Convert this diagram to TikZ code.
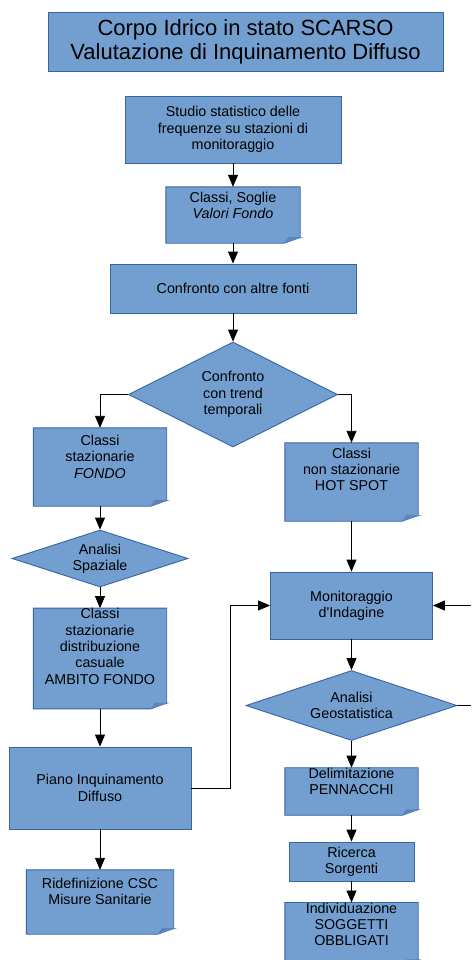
\documentclass[tikz,border=0pt]{standalone}
\usepackage{fontspec}
\setmainfont{Liberation Sans}
\usetikzlibrary{shapes.geometric,arrows.meta,backgrounds}
\definecolor{boxfill}{HTML}{729FCF}
\definecolor{boxline}{HTML}{3465A4}
\definecolor{folddark}{HTML}{5B84BA}
\tikzset{
  txt/.style={align=center, font=\fontsize{14.3}{16.4}\selectfont, inner sep=0pt},
  box/.style={txt, draw=boxline, fill=boxfill, line width=0.9pt},
  docbox/.style={txt},
  dec/.style={txt, diamond, draw=boxline, fill=boxfill, line width=0.9pt},
  conn/.style={draw=black, line width=0.9pt, -{Triangle[length=12pt,width=10pt]}},
  plain/.style={draw=black, line width=0.9pt},
}
\newcommand{\mydocshape}[1]{%
  \filldraw[draw=boxline, fill=boxfill, line width=0.9pt]
    (#1.north west) -- (#1.north east) -- ([yshift=6pt]#1.south east)
    -- ([xshift=-16pt]#1.south east) -- (#1.south west) -- cycle;
  \fill[folddark] ([xshift=-16pt]#1.south east) -- ([xshift=-12pt,yshift=6pt]#1.south east)
    -- ([xshift=3pt,yshift=6pt]#1.south east) -- cycle;}
\begin{document}
\begin{tikzpicture}[x=1pt,y=-1pt]
\useasboundingbox (0,0) rectangle (471,960);

\node[box, minimum width=395pt, minimum height=59pt, font=\fontsize{22}{24}\selectfont]
  (title) at (245.5,41.5) {Corpo Idrico in stato SCARSO\\Valutazione di Inquinamento Diffuso};

\node[box, minimum width=216pt, minimum height=67pt] (studio) at (233,129.5)
  {Studio statistico delle\\frequenze su stazioni di\\monitoraggio};
\node[docbox, minimum width=134pt, minimum height=56pt] (soglie) at (233,215)
  {Classi, Soglie\\\textit{Valori Fondo}\\[3pt]};
\node[box, minimum width=246pt, minimum height=49pt] (altre) at (233,288.5)
  {Confronto con altre fonti};
\node[dec, aspect=2, minimum width=209pt, minimum height=105pt] (trend) at (233,394.5)
  {Confronto\\con trend\\temporali};

\node[docbox, minimum width=133pt, minimum height=78pt] (fondo) at (100,467)
  {Classi\\stazionarie\\\textit{FONDO}\\[4pt]};
\node[dec, aspect=3, minimum width=176pt, minimum height=57pt] (spaz) at (100,558.5)
  {Analisi\\Spaziale};
\node[docbox, minimum width=133pt, minimum height=95pt] (distr) at (100,658.5)
  {Classi\\stazionarie\\distribuzione\\casuale\\AMBITO FONDO\\[8pt]};
\node[box, minimum width=182pt, minimum height=82pt] (piano) at (100,788)
  {Piano Inquinamento\\Diffuso};
\node[docbox, minimum width=147pt, minimum height=64pt] (ridef) at (100,902)
  {Ridefinizione CSC\\Misure Sanitarie\\[5pt]};

\node[docbox, minimum width=133pt, minimum height=78pt] (hot) at (351.5,482)
  {Classi\\non stazionarie\\HOT SPOT\\[9pt]};
\node[box, minimum width=162pt, minimum height=67pt] (monit) at (351.5,605.5)
  {Monitoraggio\\d\textquotesingle Indagine};
\node[dec, aspect=3, minimum width=211pt, minimum height=70pt] (geo) at (351.5,705.5)
  {Analisi\\Geostatistica};
\node[docbox, minimum width=133pt, minimum height=45pt] (delim) at (351.5,791.5)
  {Delimitazione\\PENNACCHI\\[4pt]};
\node[box, minimum width=125pt, minimum height=39pt] (ricerca) at (351.5,861.5)
  {Ricerca\\Sorgenti};
\node[docbox, minimum width=133pt, minimum height=56pt] (indiv) at (351.5,934)
  {Individuazione\\SOGGETTI\\OBBLIGATI\\[3pt]};

\begin{scope}[on background layer]
  \mydocshape{soglie}
  \mydocshape{fondo}
  \mydocshape{distr}
  \mydocshape{ridef}
  \mydocshape{hot}
  \mydocshape{delim}
  \mydocshape{indiv}
\end{scope}

\coordinate (rin) at (471,605.5);
\coordinate (rout) at (471,705.5);

\draw[conn] (studio) -- (soglie);
\draw[conn] (soglie) -- (altre);
\draw[conn] (altre) -- (trend);
\draw[conn] (trend.west) -| (fondo.north);
\draw[conn] (trend.east) -| (hot.north);
\draw[conn] (fondo) -- (spaz);
\draw[conn] (spaz) -- (distr);
\draw[conn] (distr) -- (piano);
\draw[conn] (piano) -- (ridef);
\draw[conn] (hot) -- (monit);
\draw[conn] (piano.east) -- ++(39,0) |- (monit.west);
\draw[conn] (rin) -- (monit.east);
\draw[conn] (monit) -- (geo);
\draw[plain] (geo.east) -- (rout);
\draw[conn] (geo) -- (delim);
\draw[conn] (delim) -- (ricerca);
\draw[conn] (ricerca) -- (indiv);
\end{tikzpicture}
\end{document}
